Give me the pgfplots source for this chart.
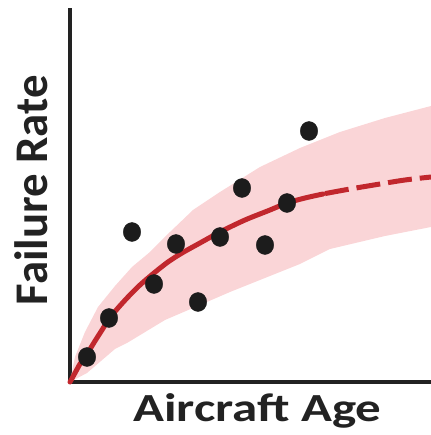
\documentclass[border=0pt]{standalone}
\usepackage{pgfplots}
\pgfplotsset{compat=1.18}
\usepackage{fontspec}
\setmainfont{Carlito}
\definecolor{bandpink}{HTML}{FAD5D7}
\definecolor{curvered}{HTML}{C1272D}
\definecolor{dotblack}{HTML}{1C1C1C}
\definecolor{axisblack}{HTML}{222222}
\begin{document}
\begin{tikzpicture}
\path[use as bounding box] (-70bp,-53bp) rectangle (361bp,382bp);
\begin{axis}[
  at={(0,0)}, anchor=south west,
  scale only axis, width=361bp, height=374bp,
  xmin=0, xmax=361, ymin=0, ymax=374,
  axis x line=bottom, axis y line=left,
  axis line style={-, line width=4.5bp, color=axisblack},
  xtick=\empty, ytick=\empty,
  clip=false,
  xlabel={Aircraft Age}, ylabel={Failure Rate},
  label style={text=axisblack},
  xlabel style={font=\fontsize{40}{42}\selectfont\bfseries, xscale=1.28,
    at={(axis description cs:0.519,0)}, anchor=base, yshift=-39bp},
  ylabel style={font=\fontsize{47}{49}\selectfont\bfseries,
    at={(axis description cs:0,0.513)}, anchor=base, yshift=22bp},
]
% confidence band
\addplot[fill=bandpink, draw=none] coordinates {
 (0,0) (5,25) (15,50) (28,75) (45,96) (62,115) (80,130) (100,150) (123,172)
 (150,190) (190,215) (230,234) (270,250) (315,264) (361,276)
 (361,155) (315,146) (260,133) (230,118) (190,102) (160,90) (123,74) (95,62)
 (57,39) (45,33) (17,9) (0,0)} -- cycle;
% fitted curve (solid)
\addplot[curvered, line width=5bp, smooth, line cap=round] coordinates {
 (0,0) (5,9) (10,18) (17,28) (25,41) (32,52) (39,63) (48,74) (58,85) (70,97)
 (84,109) (98,120) (112,129) (130,139) (150,150) (175,162) (200,172) (217,179)
 (235,184) (253,188)};
% extrapolation (dashed)
\addplot[curvered, line width=5bp, smooth, dash pattern=on 24bp off 8bp] coordinates {
 (255,188.4) (280,193) (310,198) (335,202) (361,205)};
% observations
\addplot[only marks, mark=*, mark size=9.5bp, color=dotblack,
  mark options={xscale=0.92, fill=dotblack, draw=dotblack}] coordinates {
 (17,25) (39,64) (62,150) (84,98) (106,138) (128,80) (150,145)
 (172,194) (195,137) (217,179) (239,251)};
\end{axis}
\end{tikzpicture}
\end{document}
